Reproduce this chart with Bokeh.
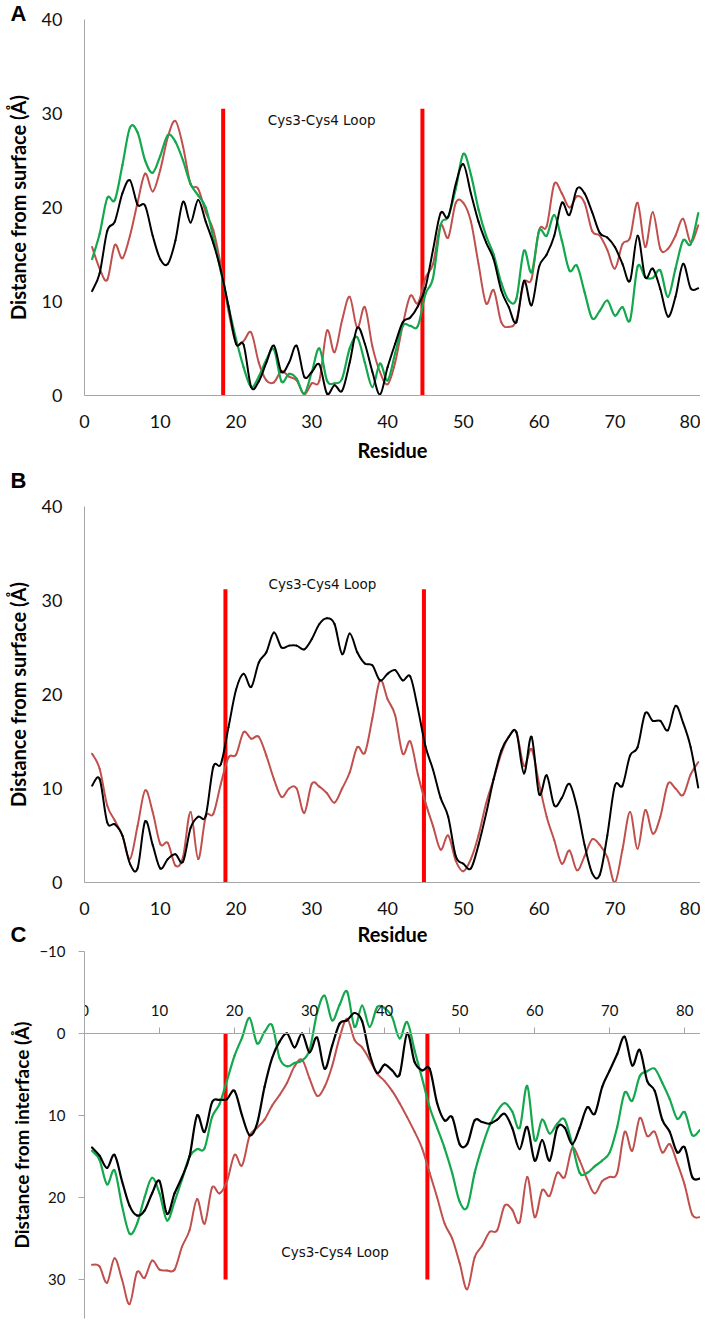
from bokeh.plotting import figure
from bokeh.models import Range1d, FixedTicker, ColumnDataSource, Div
from bokeh.layouts import column
from bokeh.embed import file_html
from bokeh.resources import INLINE
from bokeh.core.properties import value

# ---------------- data ----------------
residues_ab = list(range(1, 82))
residues_c = list(range(1, 83))

a_black = [11.1, 13.0, 17.5, 18.5, 21.5, 22.9, 20.3, 20.2, 17.0, 14.5,
           14.0, 16.5, 20.6, 18.4, 20.8, 18.5, 16.2, 13.3, 9.5, 5.5,
           5.4, 0.9, 1.5, 3.5, 5.3, 2.5, 3.5, 5.3, 2.0, 2.5,
           3.3, 0.2, 1.1, 0.5, 3.5, 7.2, 5.5, 2.5, 0.1, 3.0,
           5.5, 7.8, 8.3, 9.5, 11.5, 15.5, 19.4, 19.0, 22.5, 24.6,
           21.5, 18.5, 16.3, 14.5, 11.2, 9.4, 7.8, 12.2, 9.6, 13.7,
           15.0, 17.0, 20.5, 19.2, 22.0, 21.5, 19.5, 17.3, 16.8, 15.8,
           14.0, 12.2, 17.0, 12.6, 13.5, 11.3, 8.4, 10.5, 14.0, 11.4, 11.4]
a_green = [14.5, 17.2, 21.0, 20.8, 24.5, 28.5, 28.0, 25.0, 23.7, 25.5,
           27.7, 27.0, 25.0, 22.5, 21.3, 20.0, 16.8, 13.2, 9.5, 6.0,
           3.0, 0.9, 2.0, 3.8, 4.9, 1.5, 2.3, 1.8, 0.2, 2.5,
           5.0, 1.6, 1.3, 1.8, 5.0, 6.2, 3.5, 0.9, 3.4, 1.6,
           4.5, 7.4, 7.4, 7.4, 10.8, 12.5, 18.1, 19.0, 22.0, 25.7,
           23.5, 19.8, 17.0, 15.0, 12.0, 10.1, 10.3, 15.4, 13.1, 17.5,
           17.0, 19.2, 16.5, 13.3, 13.8, 11.0, 8.2, 9.0, 10.1, 8.5,
           9.4, 8.0, 13.7, 12.6, 12.5, 13.3, 10.5, 13.5, 16.5, 16.1, 19.4]
a_red = [15.8, 13.5, 12.3, 16.0, 14.6, 17.0, 20.5, 23.6, 21.7, 24.0,
         27.5, 29.2, 26.5, 22.5, 22.0, 19.5, 17.6, 13.8, 9.0, 5.6,
         5.8, 6.7, 3.5, 1.6, 1.4, 2.6, 2.0, 1.6, 0.1, 1.3,
         1.6, 6.9, 4.6, 8.0, 10.5, 7.2, 9.4, 5.2, 2.5, 1.2,
         3.5, 7.5, 10.6, 9.8, 12.5, 14.0, 18.1, 16.8, 20.5, 20.5,
         18.5, 14.0, 9.8, 11.2, 7.8, 7.3, 8.0, 12.0, 12.4, 17.6,
         18.0, 22.5, 21.5, 20.0, 21.2, 20.5, 17.5, 17.0, 15.5, 13.5,
         16.1, 16.8, 20.5, 15.8, 19.5, 15.6, 15.6, 17.0, 18.8, 16.3, 18.1]

b_black = [10.3, 11.0, 6.4, 6.2, 5.0, 2.0, 1.5, 6.5, 4.0, 1.5,
           2.5, 3.0, 2.2, 5.8, 7.0, 7.1, 12.3, 12.6, 16.5, 20.5,
           22.2, 20.8, 23.4, 24.5, 26.6, 25.0, 25.2, 25.2, 24.8, 25.9,
           27.5, 28.1, 27.5, 24.3, 26.5, 24.5, 23.3, 23.1, 21.5, 22.2,
           22.6, 21.5, 21.9, 18.5, 14.5, 12.0, 9.0, 7.0, 2.8, 2.0,
           1.5, 4.0, 7.3, 11.0, 14.0, 15.5, 16.0, 11.6, 15.5, 9.4,
           11.4, 8.2, 9.0, 10.5, 8.0, 4.0, 1.0, 0.8, 5.0, 10.3,
           10.3, 13.5, 14.4, 18.0, 17.2, 17.2, 16.2, 18.8, 17.0, 14.4, 10.1]
b_red = [13.7, 12.1, 8.2, 6.6, 5.0, 2.5, 6.0, 9.8, 7.5, 4.1,
         4.2, 1.8, 2.7, 7.5, 2.5, 7.0, 7.3, 10.5, 13.3, 13.6,
         16.0, 15.3, 15.5, 13.5, 11.0, 9.1, 10.0, 10.0, 7.4, 10.5,
         10.2, 9.5, 8.5, 10.0, 11.7, 14.4, 13.8, 17.5, 21.5, 19.5,
         17.8, 13.7, 15.0, 11.5, 8.5, 6.0, 3.5, 5.0, 2.3, 1.2,
         2.5, 5.0, 8.4, 11.0, 13.7, 15.5, 16.0, 12.4, 14.2, 10.5,
         7.0, 4.5, 2.0, 3.4, 1.3, 2.8, 4.6, 4.0, 2.7, 0.0,
         3.5, 7.5, 3.6, 7.7, 5.2, 7.0, 10.5, 10.0, 9.3, 11.5, 12.8]

c_black = [13.9, 14.9, 16.4, 14.8, 18.0, 21.0, 22.2, 21.6, 19.5, 18.0,
           22.0, 19.5, 17.5, 15.0, 10.0, 12.0, 8.4, 8.1, 8.0, 7.0,
           10.0, 12.4, 11.0, 6.5, 3.0, 1.0, 0.0, 1.7, 0.0, 2.3,
           0.5, 4.3, 1.5, -1.2, -1.6, -2.5, -1.5, 2.5, 4.8, 3.8,
           4.5, 5.0, 0.0, 3.5, 4.5, 4.3, 8.5, 10.6, 10.2, 13.5,
           13.5, 10.6, 10.8, 11.0, 10.5, 9.8, 11.5, 14.1, 11.4, 15.5,
           13.0, 15.5, 11.5, 11.5, 13.5, 11.5, 9.0, 9.8, 6.5, 4.5,
           2.5, 0.4, 3.9, 2.0, 5.8, 7.0, 10.5, 12.0, 14.5, 13.9,
           17.5, 17.7]
c_green = [14.3, 15.4, 18.4, 16.7, 21.0, 24.4, 23.2, 20.0, 17.6, 19.5,
           22.8, 20.5, 17.8, 15.0, 14.1, 14.0, 10.2, 8.6, 5.7, 2.7,
           0.5, -1.9, 1.2, -0.2, -1.0, 3.0, 4.0, 3.6, 3.3, 2.0,
           -2.5, -4.6, -1.6, -3.5, -5.1, -0.8, -3.4, -0.8, -3.2, -3.1,
           -2.0, 0.6, -1.4, 2.1, 5.5, 9.0, 11.5, 14.0, 17.0, 20.5,
           21.2, 17.0, 13.8, 11.2, 9.5, 8.5, 9.5, 11.5, 6.4, 13.0,
           10.5, 12.2, 11.0, 10.5, 13.5, 17.0, 17.0, 16.2, 15.5, 14.5,
           11.4, 7.2, 8.2, 5.2, 4.6, 4.3, 6.0, 8.0, 10.4, 9.6,
           12.4, 11.8]
c_red = [28.2, 28.4, 30.4, 27.4, 30.0, 33.0, 29.1, 29.8, 27.7, 28.8,
         28.9, 28.8, 26.0, 24.0, 20.2, 23.2, 18.8, 19.5, 18.0, 14.8,
         16.1, 12.5, 11.5, 10.5, 8.8, 7.5, 6.0, 4.0, 3.2, 5.5,
         7.6, 6.5, 4.0, 0.5, -1.8, 0.8, 1.7, 3.2, 4.9, 5.8,
         7.0, 8.5, 10.2, 12.0, 14.0, 17.0, 20.0, 23.2, 25.0, 28.0,
         31.2, 27.3, 25.9, 24.2, 24.0, 21.0, 21.5, 23.0, 17.5, 22.4,
         19.1, 19.8, 17.0, 17.5, 14.0, 15.5, 17.8, 19.5, 18.0, 17.5,
         17.0, 12.0, 14.3, 10.3, 12.5, 12.0, 14.5, 13.5, 15.8, 18.5,
         22.1, 22.4]

loop_a = [18.3, 44.6]
loop_b = [18.6, 44.8]
loop_c = [18.8, 45.7]
loop_label = "Cys3-Cys4 Loop"
panel_letters = ["A", "B", "C"]

x_ticks = [0, 10, 20, 30, 40, 50, 60, 70, 80]
y_ticks_ab = [0, 10, 20, 30, 40]
y_ticks_c = [-10, 0, 10, 20, 30]

BLACK = "#000000"
GREEN = "#14a84e"
BROWN = "#c0504d"
LOOP = "#ff0000"
AXIS = "#a6a6a6"
TICK_FONT = "Lato"


def smooth_source(xs, ys):
    """Bezier segments between consecutive data points (smoothed-line style)."""
    n = len(xs)
    d = {k: [] for k in ("x0", "y0", "x1", "y1", "cx0", "cy0", "cx1", "cy1")}
    for i in range(n - 1):
        ip, inx = max(i - 1, 0), min(i + 2, n - 1)
        d["x0"].append(xs[i]); d["y0"].append(ys[i])
        d["x1"].append(xs[i + 1]); d["y1"].append(ys[i + 1])
        d["cx0"].append(xs[i] + (xs[i + 1] - xs[ip]) / 6.0)
        d["cy0"].append(ys[i] + (ys[i + 1] - ys[ip]) / 6.0)
        d["cx1"].append(xs[i + 1] - (xs[inx] - xs[i]) / 6.0)
        d["cy1"].append(ys[i + 1] - (ys[inx] - ys[i]) / 6.0)
    return ColumnDataSource(d)


def curve(p, xs, ys, color, width):
    p.bezier(x0="x0", y0="y0", x1="x1", y1="y1", cx0="cx0", cy0="cy0", cx1="cx1", cy1="cy1",
             source=smooth_source(xs, ys), line_color=color, line_width=width, line_cap="round")


def style_ab(p, ytitle):
    p.grid.visible = False
    p.outline_line_color = None
    p.xaxis.ticker = FixedTicker(ticks=x_ticks)
    p.yaxis.ticker = FixedTicker(ticks=y_ticks_ab)
    for ax in (p.xaxis, p.yaxis):
        ax.axis_line_color = AXIS
        ax.major_tick_line_color = None
        ax.minor_tick_line_color = None
        ax.major_tick_out = 0
        ax.major_tick_in = 0
        ax.major_label_text_font = TICK_FONT
        ax.major_label_text_font_size = "18px"
        ax.major_label_text_color = "#111111"
        ax.axis_label_text_font = TICK_FONT
        ax.axis_label_text_font_style = "bold"
        ax.axis_label_text_font_size = "20px"
        ax.axis_label_text_color = "#000000"
    p.xaxis.axis_label = "Residue"
    p.yaxis.axis_label = ytitle
    p.xaxis.major_label_standoff = 19
    p.xaxis.axis_label_standoff = 7
    p.yaxis.major_label_standoff = 22
    p.yaxis.axis_label_standoff = 9


def add_loop_text(p, x, y):
    p.text(x=[x], y=[y], text=[loop_label], text_align="center",
           text_baseline="middle", text_font=value("DejaVu Sans"),
           text_font_size="13.5px", text_color="#111111")


def letter_div(letter, top):
    html = ('<span style="font-family:\'Liberation Sans\',Arial,sans-serif;font-weight:bold;'
            'font-size:22px;line-height:20px;color:#000">%s</span>' % letter)
    return Div(text=html, width=37, height=20, margin=(top, 0, 0, 0),
               styles={"text-align": "center", "line-height": "20px", "font-size": "22px"})


# ---------------- panel A ----------------
pA = figure(width=700, height=470, x_range=Range1d(0, 81.3), y_range=Range1d(0, 40),
            output_backend="svg", toolbar_location=None, border_fill_color=None,
            min_border_left=84, min_border_right=0, min_border_top=19, min_border_bottom=75,
            margin=(-24, 0, 0, 0))
style_ab(pA, "Distance from surface (Å)")
pA.segment(x0=loop_a, y0=[-0.5, -0.5], x1=loop_a, y1=[30.5, 30.5], line_color=LOOP, line_width=4)
curve(pA, residues_ab, a_red, BROWN, 2)
curve(pA, residues_ab, a_green, GREEN, 2.2)
curve(pA, residues_ab, a_black, BLACK, 2)
add_loop_text(pA, 31.3, 29.3)

# ---------------- panel B ----------------
pB = figure(width=700, height=482, x_range=Range1d(0, 81.3), y_range=Range1d(0, 40),
            output_backend="svg", toolbar_location=None, border_fill_color=None,
            min_border_left=84, min_border_right=0, min_border_top=36, min_border_bottom=70,
            margin=(-21, 0, 0, 0))
style_ab(pB, "Distance from surface (Å)")
pB.xaxis.axis_label_standoff = 4
pB.segment(x0=loop_b, y0=[-0.5, -0.5], x1=loop_b, y1=[31.2, 31.2], line_color=LOOP, line_width=4)
curve(pB, residues_ab, b_red, BROWN, 2)
curve(pB, residues_ab, b_black, BLACK, 2)
add_loop_text(pB, 31.4, 31.8)

# ---------------- panel C ----------------
pC = figure(width=700, height=388, x_range=Range1d(0, 82.1), y_range=Range1d(34.76, -10),
            output_backend="svg", toolbar_location=None, x_axis_location="above",
            min_border_left=75, min_border_right=0, min_border_top=19, min_border_bottom=2,
            border_fill_color=None, margin=(-13, 0, 0, 0))
pC.grid.visible = False
pC.outline_line_color = None
pC.xaxis.fixed_location = 0
pC.xaxis.ticker = FixedTicker(ticks=x_ticks)
pC.yaxis.ticker = FixedTicker(ticks=y_ticks_c)
for ax in (pC.xaxis, pC.yaxis):
    ax.axis_line_color = AXIS
    ax.major_tick_line_color = AXIS
    ax.minor_tick_line_color = None
    ax.major_tick_out = 6
    ax.major_tick_in = 0
    ax.major_label_text_font = TICK_FONT
    ax.major_label_text_font_size = "15px"
    ax.major_label_text_color = "#111111"
pC.xaxis.major_label_standoff = 11
pC.yaxis.major_label_standoff = 13
pC.yaxis.axis_label = "Distance from interface (Å)"
pC.yaxis.axis_label_text_font = TICK_FONT
pC.yaxis.axis_label_text_font_style = "bold"
pC.yaxis.axis_label_text_font_size = "19px"
pC.yaxis.axis_label_text_color = "#000000"
pC.yaxis.axis_label_standoff = 3
pC.segment(x0=loop_c, y0=[0, 0], x1=loop_c, y1=[30, 30], line_color=LOOP, line_width=4)
curve(pC, residues_c, c_red, BROWN, 2)
curve(pC, residues_c, c_green, GREEN, 2.2)
curve(pC, residues_c, c_black, BLACK, 2.2)
add_loop_text(pC, 33.4, 26.7)

layout = column(letter_div(panel_letters[0], 4), pA,
                letter_div(panel_letters[1], 1), pB,
                letter_div(panel_letters[2], -27), pC, spacing=0)
open("out.html", "w").write(file_html(layout, INLINE))
